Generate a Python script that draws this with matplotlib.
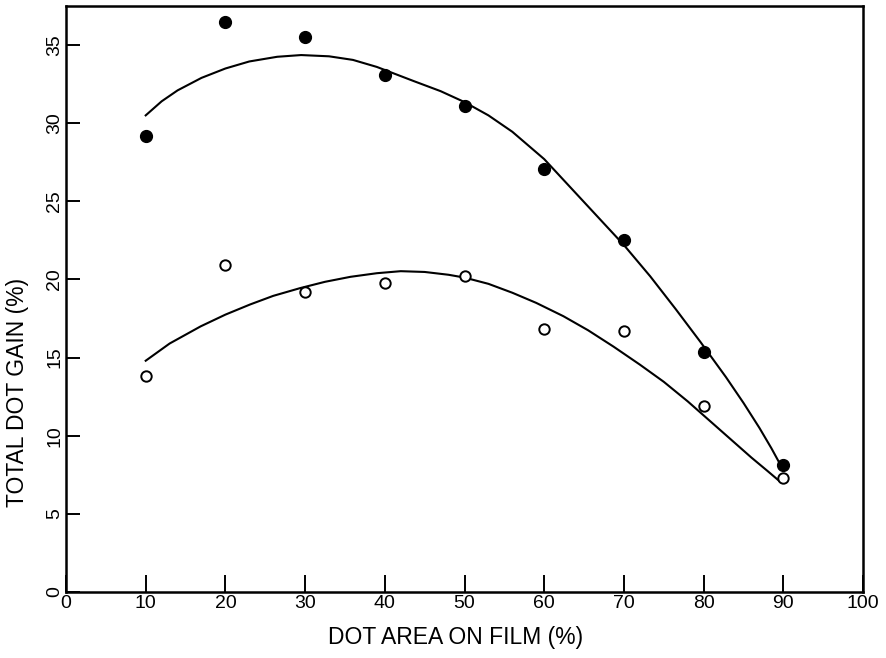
import matplotlib.pyplot as plt

plt.rcParams['font.family'] = ['Liberation Sans', 'DejaVu Sans']

# measured points
dot_area = [10, 20, 30, 40, 50, 60, 70, 80, 90]
gain_filled = [29.2, 36.5, 35.5, 33.1, 31.1, 27.05, 22.5, 15.35, 8.1]
gain_open = [13.8, 20.9, 19.2, 19.8, 20.2, 16.8, 16.7, 11.9, 7.3]

# fitted curves
upper_x = [10, 12, 14, 17, 20, 23, 26.5, 29.5, 33, 36, 39, 43.6, 47, 50, 53,
           56, 60, 65, 70, 73.3, 76.5, 79.6, 82.8, 85, 87, 88.5, 90]
upper_y = [30.5, 31.4, 32.1, 32.9, 33.5, 33.95, 34.25, 34.36, 34.28, 34.05,
           33.6, 32.7, 32.05, 31.35, 30.5, 29.45, 27.7, 24.95, 22.2, 20.2,
           18.1, 16.0, 13.75, 12.1, 10.5, 9.2, 7.8]
lower_x = [10, 13, 16.9, 20, 23.1, 26, 29.4, 32.5, 35.7, 39, 42, 45, 48, 50,
           53, 56, 59, 62.4, 65.5, 68.7, 72, 75, 78, 81, 84, 86, 88, 89.5]
lower_y = [14.8, 15.9, 17.0, 17.75, 18.4, 18.95, 19.45, 19.85, 20.17, 20.4,
           20.53, 20.48, 20.3, 20.12, 19.72, 19.15, 18.5, 17.65, 16.75, 15.7,
           14.55, 13.45, 12.2, 10.85, 9.5, 8.6, 7.75, 7.1]

fig = plt.figure(figsize=(8.87, 6.58), dpi=100)
ax = fig.add_axes([0.0744, 0.1003, 0.8986, 0.8906])

ax.plot(upper_x, upper_y, color='black', lw=1.5)
ax.plot(lower_x, lower_y, color='black', lw=1.5)
ax.plot(dot_area, gain_filled, 'o', color='black', ms=8.5, ls='none')
ax.plot(dot_area, gain_open, 'o', mfc='white', mec='black', mew=1.4,
        ms=7.5, ls='none')

ax.set_xlim(0, 100)
ax.set_ylim(0, 37.5)
ax.set_xticks(range(0, 101, 10))
ax.set_yticks(range(0, 36, 5))
ax.tick_params(axis='x', direction='in', length=12, width=1.4,
               labelsize=14, pad=2)
ax.tick_params(axis='y', direction='in', length=10, width=1.4,
               labelsize=14, pad=2, labelrotation=90)
for lab in ax.get_yticklabels():
    lab.set_verticalalignment('center')
for s in ax.spines.values():
    s.set_linewidth(1.8)

ax.set_xlabel('DOT AREA ON FILM (%)', fontsize=16.5)
ax.xaxis.set_label_coords(0.489, -0.058)
ax.set_ylabel('TOTAL DOT GAIN (%)', fontsize=16.5)
ax.yaxis.set_label_coords(-0.047, 0.34)

fig.savefig('out.png')
plt.close(fig)
